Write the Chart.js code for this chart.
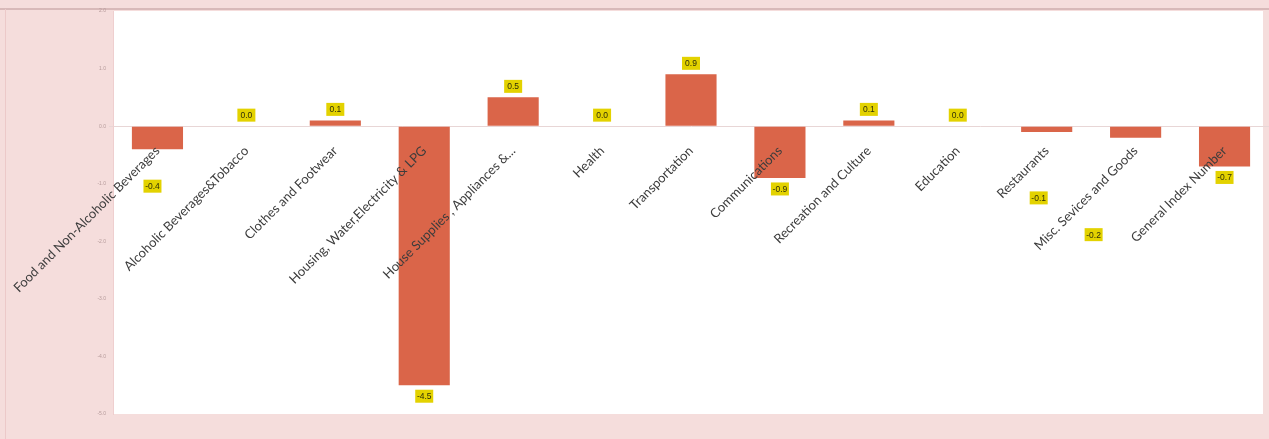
<!DOCTYPE html>
<html>
<head>
<meta charset="utf-8">
<script src="https://cdn.jsdelivr.net/npm/chart.js@4.4.1/dist/chart.umd.min.js"></script>
<style>
html,body{margin:0;padding:0;background:#f5dddc;overflow:hidden;}
#wrap{position:relative;width:1269px;height:439px;}
</style>
</head>
<body>
<div id="wrap"><canvas id="c" width="1269" height="439"></canvas></div>
<script>
const categories = [
  "Food and Non-Alcoholic Beverages",
  "Alcoholic Beverages&Tobacco",
  "Clothes and Footwear",
  "Housing, Water,Electricity & LPG",
  "House Supplies , Appliances &...",
  "Health",
  "Transportation",
  "Communications",
  "Recreation and Culture",
  "Education",
  "Restaurants",
  "Misc. Sevices and Goods",
  "General Index Number"
];
const changeValues = [-0.4, 0.0, 0.1, -4.5, 0.5, 0.0, 0.9, -0.9, 0.1, 0.0, -0.1, -0.2, -0.7];
const yTicks = [2, 1, 0, -1, -2, -3, -4, -5];

const bgPlugin = {
  id: 'bg',
  beforeDraw(chart) {
    const {ctx, chartArea: a} = chart;
    ctx.save();
    ctx.fillStyle = '#f5dddc';
    ctx.fillRect(0, 0, chart.width, chart.height);
    ctx.fillStyle = '#ffffff';
    const r = Math.min(a.right, 1263);
    ctx.fillRect(a.left, a.top, r - a.left, a.bottom - a.top);
    ctx.strokeStyle = '#d8b9b9';
    ctx.lineWidth = 2;
    ctx.beginPath(); ctx.moveTo(0, 9); ctx.lineTo(chart.width, 9); ctx.stroke();
    ctx.strokeStyle = '#ecc9c9';
    ctx.lineWidth = 1;
    ctx.beginPath(); ctx.moveTo(5.5, 9); ctx.lineTo(5.5, chart.height); ctx.stroke();
    ctx.restore();
  }
};

const labelPlugin = {
  id: 'valueLabels',
  afterDraw(chart, args, opts) {
    const {ctx} = chart;
    const meta = chart.getDatasetMeta(0);
    const vals = chart.data.datasets[0].data;
    ctx.save();
    ctx.font = '8.5px "Liberation Sans", sans-serif';
    ctx.textAlign = 'center';
    ctx.textBaseline = 'middle';
    meta.data.forEach((bar, i) => {
      const v = vals[i];
      const nudge = (opts.nudge && opts.nudge[i]) || 0;
      const cx = bar.x + ((opts.shiftX && opts.shiftX[i]) || 0);
      let cy;
      if (v < 0) cy = bar.y + 11 + nudge;
      else cy = bar.y - 11;
      const txt = v.toFixed(1);
      const w = 18, h = 13;
      ctx.fillStyle = '#e3d200';
      ctx.fillRect(cx - w / 2, cy - h / 2, w, h);
      ctx.fillStyle = '#2e2e08';
      ctx.fillText(txt, cx, cy + 0.5);
    });
    ctx.restore();
  }
};

new Chart(document.getElementById('c'), {
  type: 'bar',
  data: {
    labels: categories,
    datasets: [{
      data: changeValues,
      backgroundColor: '#da6549',
      borderWidth: 0,
      categoryPercentage: 1.0,
      barPercentage: 0.575
    }]
  },
  options: {
    responsive: false,
    animation: false,
    devicePixelRatio: 1,
    layout: {padding: {top: 11, bottom: 25, left: 0, right: -4}},
    plugins: {
      legend: {display: false},
      tooltip: {enabled: false},
      valueLabels: {nudge: {0: 26, 10: 55, 11: 86}, shiftX: {0: -5, 10: -8, 11: -42}}
    },
    scales: {
      x: {
        position: {y: 0},
        grid: {display: false},
        border: {display: false},
        ticks: {
          z: 1,
          autoSkip: false,
          maxRotation: 45,
          minRotation: 45,
          padding: 9,
          color: '#3c3c3c',
          font: {family: 'Lato', size: 13}
        }
      },
      y: {
        min: -5,
        max: 2,
        afterBuildTicks(scale) { scale.ticks = yTicks.map(v => ({value: v})); },
        afterFit(scale) { scale.width = 113; },
        border: {display: true, color: '#efcfcf'},
        grid: {
          drawTicks: true,
          tickLength: 4,
          color: ctx => (ctx.tick && ctx.tick.value === 0) ? '#e8d6d6' : 'rgba(0,0,0,0)'
        },
        ticks: {
          color: '#b59a9a',
          font: {family: 'Liberation Sans', size: 5},
          padding: 3,
          callback: v => Number(v).toFixed(1)
        }
      }
    }
  },
  plugins: [bgPlugin, labelPlugin]
});
</script>
</body>
</html>
